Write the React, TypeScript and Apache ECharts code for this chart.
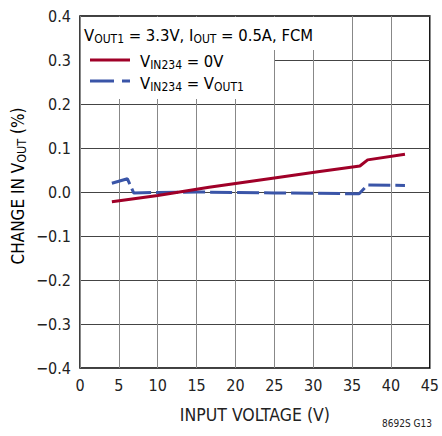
import React, { useEffect, useRef } from "react";
import * as echarts from "echarts";

const xTicks = [0, 5, 10, 15, 20, 25, 30, 35, 40, 45];
const redX = [4.1, 10, 16.6, 25, 30.6, 36.0, 37, 41.8];
const redY = [-0.022, -0.008, 0.011, 0.032, 0.046, 0.059, 0.073, 0.086];
const blueX = [4.1, 6.1, 6.9, 10, 15, 20, 25, 30, 35.9, 37, 41.8];
const blueY = [0.02, 0.03, -0.002, -0.001, 0.0, -0.001, -0.002, -0.003, -0.004, 0.016, 0.015];
const seriesNames = ["VIN234 = 0V", "VIN234 = VOUT1"];

const FONT = "'DejaVu Sans Condensed', 'Liberation Sans Narrow', sans-serif";
const RED = "#a00028";
const BLUE = "#3a55a8";

export default function App() {
  const ref = useRef<HTMLDivElement>(null);
  useEffect(() => {
    if (!ref.current) return;
    const chart = echarts.init(ref.current, undefined, { renderer: "svg" });
    const sub = { fontSize: 12, fontFamily: FONT, color: "#222", verticalAlign: "bottom" as const, lineHeight: 20 };
    const base = { fontSize: 16.5, fontFamily: FONT, color: "#222", lineHeight: 20 };
    chart.setOption({
      animation: false,
      backgroundColor: "#fff",
      grid: { left: 80, right: 9, top: 16, bottom: 68, show: true, borderColor: "#000", borderWidth: 1.5, containLabel: false },
      xAxis: {
        type: "value",
        min: xTicks[0],
        max: xTicks[xTicks.length - 1],
        interval: 5,
        axisLine: { show: false },
        axisTick: { show: false },
        axisLabel: { fontSize: 16, fontFamily: FONT, color: "#222", margin: 9 },
        splitLine: { show: true, lineStyle: { color: "#888", width: 1 } },
        name: "INPUT VOLTAGE (V)",
        nameLocation: "middle",
        nameGap: 38,
        nameTextStyle: { fontSize: 17.5, fontFamily: FONT, color: "#222" },
      },
      yAxis: {
        type: "value",
        min: -0.4,
        max: 0.4,
        interval: 0.1,
        axisLine: { show: false },
        axisTick: { show: false },
        axisLabel: {
          fontSize: 16,
          fontFamily: FONT,
          color: "#222",
          margin: 9,
          formatter: (v: number) => (Math.abs(v) < 1e-9 ? "0.0" : v.toFixed(1).replace("-", "\u2212")),
        },
        splitLine: { show: true, lineStyle: { color: "#444", width: 1 } },
      },
      series: [
        {
          name: seriesNames[0],
          type: "line",
          data: redX.map((x, i) => [x, redY[i]]),
          showSymbol: false,
          lineStyle: { color: RED, width: 3 },
          z: 5,
        },
        {
          name: seriesNames[1],
          type: "line",
          data: blueX.map((x, i) => [x, blueY[i]]),
          showSymbol: false,
          lineStyle: { color: BLUE, width: 3, type: [22, 5] },
          z: 4,
        },
      ],
      graphic: [
        { type: "rect", shape: { x: 81, y: 17, width: 254, height: 33 }, style: { fill: "#fff" }, z: 10 },
        { type: "rect", shape: { x: 81, y: 17, width: 193, height: 82 }, style: { fill: "#fff" }, z: 10 },
        {
          type: "text",
          x: 84,
          y: 25,
          z: 11,
          style: {
            text: "V{s|OUT1} = 3.3V, I{s|OUT} = 0.5A, FCM",
            rich: { s: sub },
            ...base,
          },
        },
        { type: "line", shape: { x1: 90, y1: 60, x2: 130, y2: 60 }, style: { stroke: RED, lineWidth: 3 }, z: 11 },
        {
          type: "text",
          x: 140,
          y: 51,
          z: 11,
          style: { text: "V{s|IN234} = 0V", rich: { s: sub }, ...base },
        },
        { type: "line", shape: { x1: 90, y1: 81, x2: 130, y2: 81 }, style: { stroke: BLUE, lineWidth: 3, lineDash: [24, 8] }, z: 11 },
        {
          type: "text",
          x: 140,
          y: 73,
          z: 11,
          style: { text: "V{s|IN234} = V{s|OUT1}", rich: { s: sub }, ...base },
        },
        {
          type: "text",
          x: 18,
          y: 186,
          rotation: Math.PI / 2,
          z: 11,
          style: {
            text: "CHANGE IN V{s|OUT} (%)",
            rich: { s: { ...sub, fontSize: 12.5 } },
            ...base,
            fontSize: 17,
            align: "center",
            verticalAlign: "middle",
          },
        },
        {
          type: "text",
          x: 432,
          y: 418,
          z: 11,
          style: { text: "8692S G13", fontSize: 10, fontFamily: FONT, fill: "#222", align: "right" },
        },
      ],
    });
    return () => chart.dispose();
  }, []);
  return <div ref={ref} style={{ position: "fixed", left: 0, top: 0, width: 442, height: 436 }} />;
}
